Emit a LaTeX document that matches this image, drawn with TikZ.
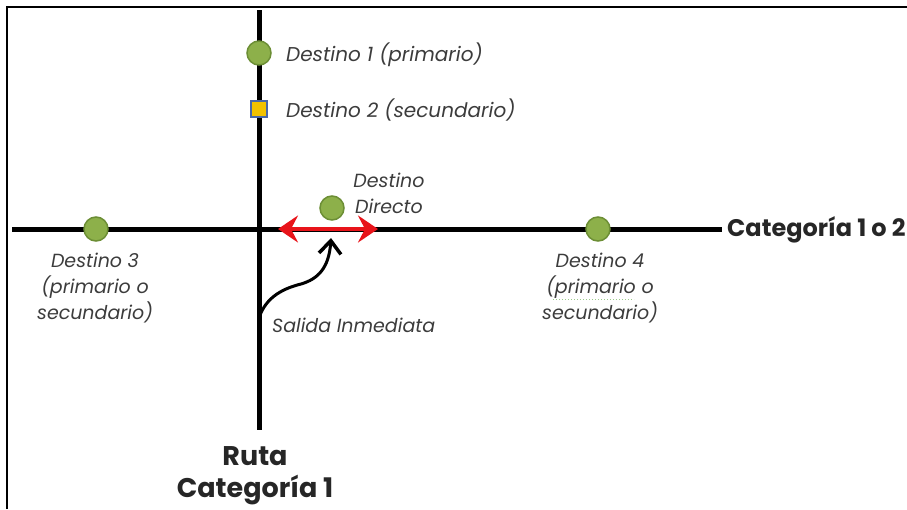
\documentclass[tikz,border=0pt]{standalone}
\usepackage{fontspec}
\setmainfont{Poppins}
\newfontfamily\headfont{Poppins}
\usetikzlibrary{arrows.meta}
\definecolor{dotfill}{HTML}{8DB04A}
\definecolor{dotline}{HTML}{6C8E35}
\definecolor{sqfill}{HTML}{F2C200}
\definecolor{sqline}{HTML}{4A68A8}
\definecolor{txt}{HTML}{3C3C3C}
\definecolor{redarr}{HTML}{E8141A}
\definecolor{spell}{HTML}{9CCB8A}
\begin{document}
\begin{tikzpicture}[x=1pt,y=-1pt,
  road/.style={line width=5pt,black},
  dot/.style={circle,fill=dotfill,draw=dotline,line width=1.5pt,minimum size=24pt,inner sep=0pt},
  sqbox/.style={rectangle,fill=sqfill,draw=sqline,line width=2pt,minimum size=16pt,inner sep=0pt},
  lbl/.style={font=\fontsize{19}{22}\selectfont\itshape,text=txt,inner sep=0pt},
  biglbl/.style={lbl,font=\fontsize{20}{22}\selectfont\itshape},
  mlbl/.style={lbl,align=center,font=\fontsize{19}{26}\selectfont\itshape},
  head/.style={font=\headfont\bfseries\fontsize{24}{32}\selectfont,text=black!85,inner sep=0pt,align=center}]
\useasboundingbox (0,0) rectangle (907,509);
\draw[line width=2.5pt] (7,509) -- (7,7) -- (907,7);
\coordinate (vt) at (259,10);
\coordinate (vb) at (259,430);
\coordinate (hl) at (12,229);
\coordinate (hr) at (722,229);
\draw[road] (vt) -- (vb);
\draw[road] (hl) -- (hr);
\coordinate (ra) at (278,229);
\coordinate (rb) at (378,229);
\draw[redarr,line width=4pt,{Stealth[length=20pt,width=27pt,inset=7pt]}-{Stealth[length=20pt,width=27pt,inset=7pt]}] (ra) -- (rb);
\coordinate (cs) at (259,318);
\coordinate (ce) at (331,238);
\draw[line width=3pt,-{Straight Barb[length=13pt,width=22pt,line width=3.5pt]}] (cs) .. controls (266,296) and (285,288) .. (301,284) .. controls (318,279) and (329,268) .. (ce);
\node[dot] (d1) at (259,53) {};
\node[sqbox] (d2) at (259,109) {};
\node[dot] (dd) at (332,208) {};
\node[dot] (d3) at (96,229) {};
\node[dot] (d4) at (598,229) {};
\node[biglbl,anchor=west] (t1) at (286,55) {Destino 1 (primario)};
\node[biglbl,anchor=west] (t2) at (286,110) {Destino 2 (secundario)};
\node[mlbl] (tdd) at (389,193) {Destino\\Directo};
\node[mlbl] (t3) at (95,288) {Destino 3\\(primario o\\secundario)};
\node[mlbl] (t4) at (600,288) {Destino 4\\(primario o\\secundario)};
\coordinate (ul1) at (553,299);
\coordinate (ul2) at (634,299);
\draw[spell,line width=1pt,dotted] (ul1) -- (ul2);
\node[lbl,anchor=west] (ts) at (272,325) {Salida Inmediata};
\node[head,anchor=west] (tc) at (727,230) {Categoría 1 o 2};
\node[head,font=\headfont\bfseries\fontsize{27}{32}\selectfont] (tr) at (255,476) {Ruta\\Categoría 1};
\end{tikzpicture}
\end{document}
